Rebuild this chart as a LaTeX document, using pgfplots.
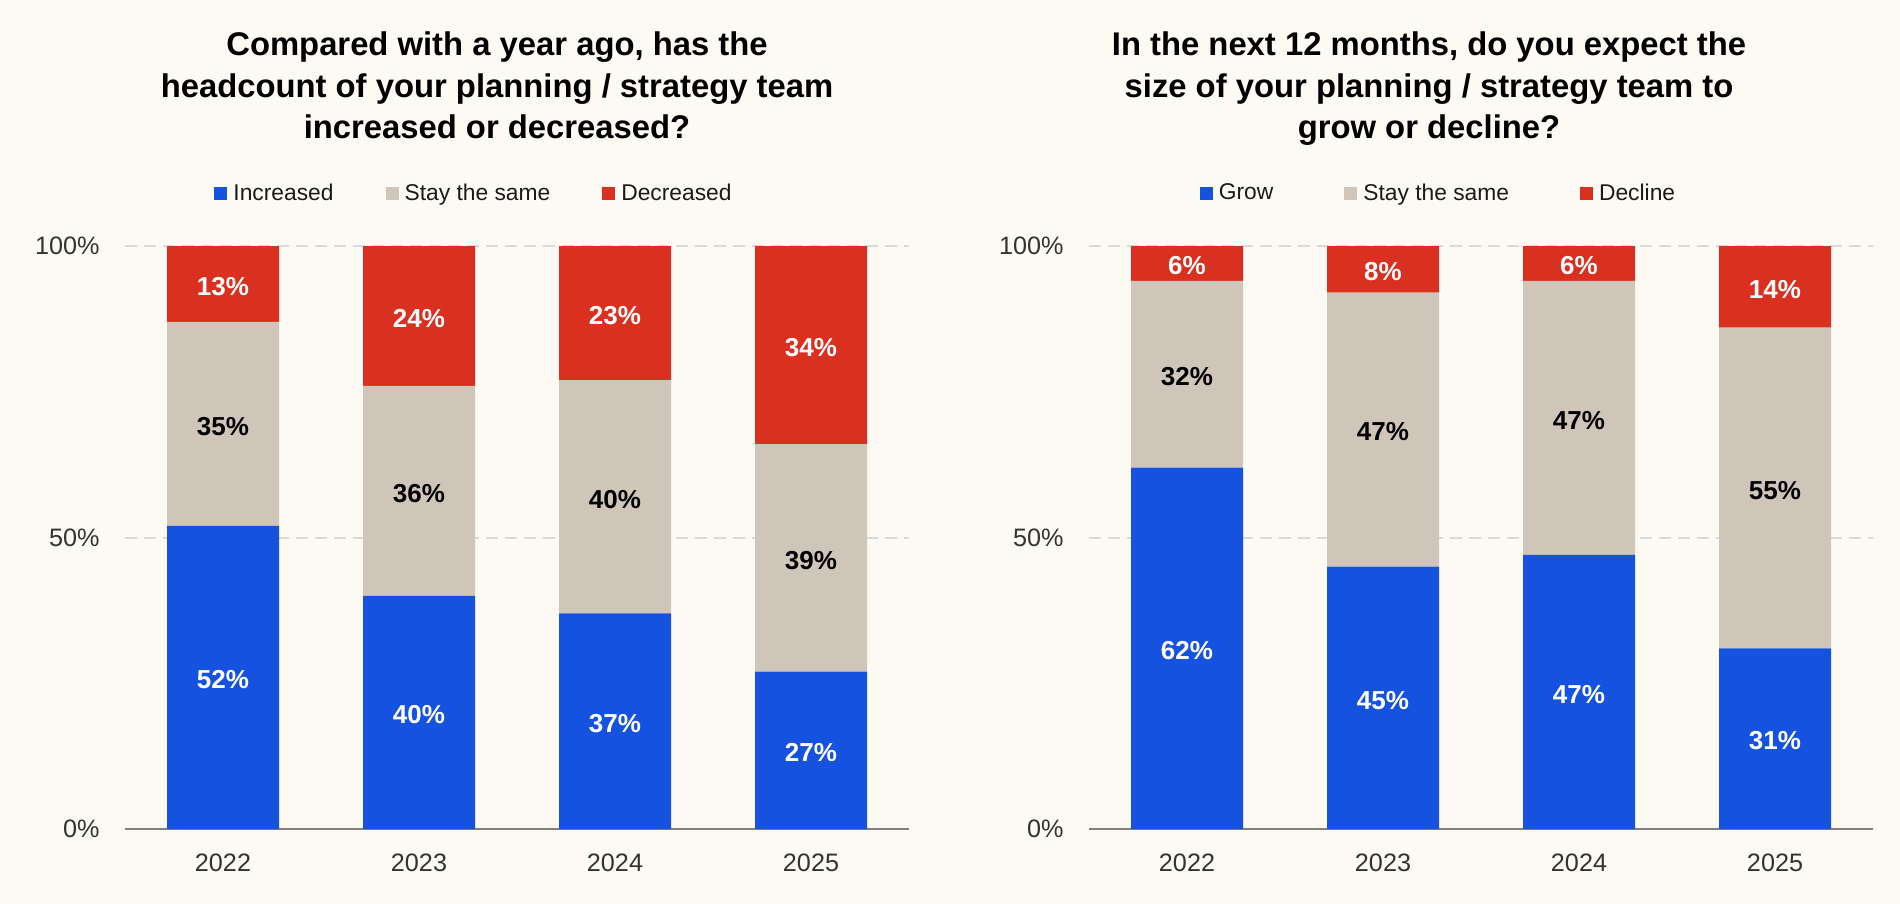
\documentclass[border=0pt]{standalone}
\usepackage{pgfplots}
\usepackage{pgfplotstable}
\pgfplotsset{compat=1.18}
\usepackage{fontspec}
\setmainfont{Liberation Sans}

\definecolor{bg}{HTML}{FCFAF2}
\definecolor{cblue}{HTML}{1652E0}
\definecolor{cgray}{HTML}{CFC5B9}
\definecolor{cred}{HTML}{D93020}
\definecolor{gridc}{HTML}{D9D9D9}
\definecolor{axisc}{HTML}{808080}
\definecolor{tickc}{HTML}{333333}
\definecolor{legc}{HTML}{1A1A1A}

% headcount change vs a year ago
\pgfplotstableread{
x inc same dec
0 52 35 13
1 40 36 24
2 37 40 23
3 27 39 34
}\headcount

% expected change in next 12 months
\pgfplotstableread{
x grow same decl
0 62 32 6
1 45 47 8
2 47 47 6
3 31 55 14
}\expect

\newcommand\titlefont{\bfseries\fontsize{16.4}{20}\selectfont}

\pgfplotsset{
  stackbars/.style={
    scale only axis, width=392pt, height=291.5pt,
    ybar stacked, bar width=56pt,
    xmin=-0.5, xmax=3.5, ymin=0, ymax=100,
    xtick={0,1,2,3}, xticklabels={2022,2023,2024,2025},
    ytick={0,50,100}, yticklabels={0\%,50\%,100\%},
    axis x line*=bottom, axis y line*=left,
    y axis line style={draw=none},
    x axis line style={axisc, line width=1.2pt, -},
    major tick length=0pt, tick style={draw=none},
    ymajorgrids, grid style={gridc, line width=1pt, dash pattern=on 6pt off 3.5pt},
    xticklabel style={font=\fontsize{12.6}{14}\selectfont, text=tickc, anchor=north, inner sep=0pt, yshift=-12pt},
    yticklabel style={font=\fontsize{12.6}{14}\selectfont, text=tickc, anchor=east, inner sep=0pt, xshift=-12.5pt},
    area legend,
    legend image code/.code={\fill[#1, draw=none] (0pt,-3.25pt) rectangle (6.5pt,3.25pt);},
    legend style={draw=none, fill=none, anchor=center, legend columns=3, inner sep=0pt,
      font=\fontsize{11.4}{13}\selectfont, text=legc,
      /tikz/every odd column/.append style={column sep=3pt},
      nodes={inner sep=0pt}},
  },
  seg/.style 2 args={fill=#1, draw=none,
    point meta=explicit symbolic,
    nodes near coords={\pgfplotspointmeta\%},
    every node near coord/.append style={text=#2, font=\bfseries\fontsize{13}{15}\selectfont,
      anchor=center, inner sep=0pt, yshift=-1.2pt}},
}

\begin{document}
\begin{tikzpicture}
\fill[bg] (0,0) rectangle (950pt,-452pt);

\begin{axis}[stackbars, at={(62.5pt,-414.5pt)}, anchor=south west,
  legend style={at={(0.4439,1.0901)},
    /tikz/every even column/.append style={column sep=26pt}}]
  \addplot[seg={cblue}{white}] table[x=x, y=inc, meta=inc]{\headcount};
  \addplot[seg={cgray}{black}] table[x=x, y=same, meta=same]{\headcount};
  \addplot[seg={cred}{white}] table[x=x, y=dec, meta=dec]{\headcount};
  \legend{Increased, Stay the same, Decreased}
\end{axis}

\begin{axis}[stackbars, at={(544.5pt,-414.5pt)}, anchor=south west,
  legend style={at={(0.4445,1.0901)},
    /tikz/every even column/.append style={column sep=35.5pt}}]
  \addplot[seg={cblue}{white}] table[x=x, y=grow, meta=grow]{\expect};
  \addplot[seg={cgray}{black}] table[x=x, y=same, meta=same]{\expect};
  \addplot[seg={cred}{white}] table[x=x, y=decl, meta=decl]{\expect};
  \legend{Grow, Stay the same, Decline}
\end{axis}

\node[anchor=base, font=\titlefont] at (248.5pt,-27.7pt) {Compared with a year ago, has the};
\node[anchor=base, font=\titlefont] at (248.5pt,-48.6pt) {headcount of your planning / strategy team};
\node[anchor=base, font=\titlefont] at (248.5pt,-69.5pt) {increased or decreased?};

\node[anchor=base, font=\titlefont] at (714.5pt,-27.7pt) {In the next 12 months, do you expect the};
\node[anchor=base, font=\titlefont] at (714.5pt,-48.6pt) {size of your planning / strategy team to};
\node[anchor=base, font=\titlefont] at (714.5pt,-69.5pt) {grow or decline?};

\pgfresetboundingbox
\useasboundingbox (0,0) rectangle (950pt,-452pt);
\end{tikzpicture}
\end{document}
